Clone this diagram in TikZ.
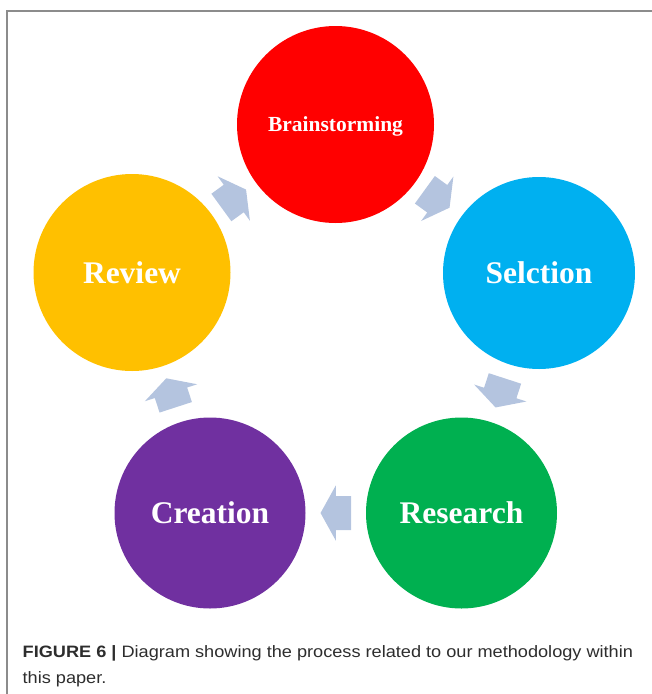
\documentclass[tikz,border=0pt]{standalone}
\usepackage{graphicx}
\usepackage{fontspec}
\setmainfont{Liberation Serif}
\newfontfamily\capfont{Liberation Sans}
\usetikzlibrary{calc}

\definecolor{brainred}{HTML}{FF0000}
\definecolor{selblue}{HTML}{00B0F0}
\definecolor{resgreen}{HTML}{00B050}
\definecolor{crepurple}{HTML}{7030A0}
\definecolor{revorange}{HTML}{FFC000}
\definecolor{flowblue}{RGB}{180,196,223}
\definecolor{framegray}{RGB}{140,140,140}
\definecolor{capgray}{RGB}{45,45,45}

\begin{document}
\begin{tikzpicture}[x=1pt, y=-1pt,
    stage/.style={circle, inner sep=0pt, text=white, text depth=0pt,
        font=\bfseries\fontsize{31.5}{36}\selectfont},
    captext/.style={anchor=base west, inner sep=0pt, text=capgray,
        font=\capfont\fontsize{16.5}{20}\selectfont}]
    \useasboundingbox (0,0) rectangle (652,694);

    % Frame
    \draw[framegray, line width=1.3pt] (652,11) -- (7,11) -- (7,694);

    % Stages of the cycle
    \node[stage, fill=brainred, minimum size=197pt,
        font=\bfseries\fontsize{21.5}{26}\selectfont] (brain) at (335.5,124.5) {Brainstorming};
    \node[stage, fill=selblue, minimum size=192pt] (sel) at (539,273) {Selction};
    \node[stage, fill=resgreen, minimum size=191pt] (res) at (461.5,513) {Research};
    \node[stage, fill=crepurple, minimum size=191pt] (cre) at (210,513) {Creation};
    \node[stage, fill=revorange, minimum size=197pt] (rev) at (132,272.5) {Review};

    % Block arrows between the stages
    \foreach \from/\to/\ang in {rev/brain/36, brain/sel/-36, sel/res/-108, res/cre/180, cre/rev/108} {
        \fill[flowblue, shift={($(\from)!0.5!(\to)$)}, rotate=\ang]
            (-15.3,-17) -- (0,-17) -- (0,-27.5) -- (15.2,0) -- (0,27.5) -- (0,17) -- (-15.3,17) -- cycle;
    }

    % Caption
    \node[captext] (capA) at (22.5,657.5) {\scalebox{1.1}[1]{\textbf{FIGURE 6 |} Diagram showing the process related to our methodology within}};
    \node[captext] (capB) at (22.5,683) {\scalebox{1.1}[1]{this paper.}};
\end{tikzpicture}
\end{document}
